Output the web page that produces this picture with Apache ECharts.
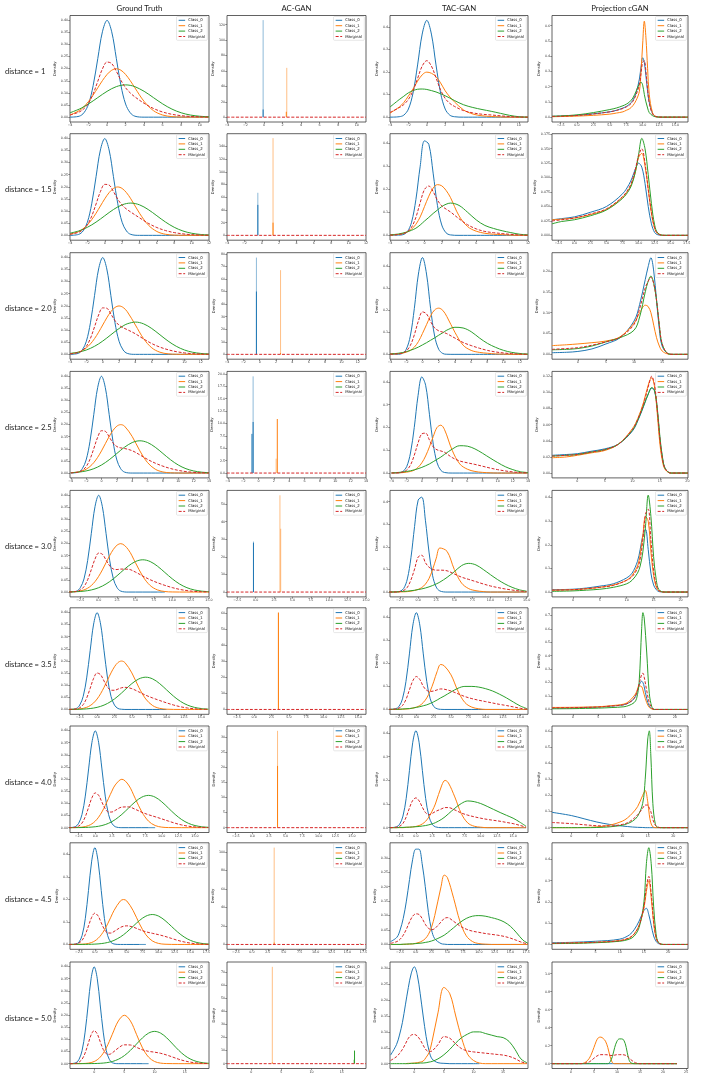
<!DOCTYPE html>
<html>
<head>
<meta charset="utf-8">
<title>Densities by distance</title>
<script src="https://cdn.jsdelivr.net/npm/echarts@6/dist/echarts.min.js"></script>
<style>
html, body { margin: 0; padding: 0; background: #fff; }
#chart { width: 708px; height: 1078px; }
</style>
</head>
<body>
<div id="chart"></div>
<script>
// ---------------- labels ----------------
var classNames = ['Class_0', 'Class_1', 'Class_2', 'Marginal'];
var columnTitles = ['Ground Truth', 'AC-GAN', 'TAC-GAN', 'Projection cGAN'];
var rowTitles = ['distance = 1', 'distance = 1.5', 'distance = 2.0', 'distance = 2.5', 'distance = 3.0',
                 'distance = 3.5', 'distance = 4.0', 'distance = 4.5', 'distance = 5.0'];

// ---------------- Ground Truth ----------------
var gtGrid = [
  [-4,-3,-2.5,-2,-1.5,-1,-0.5,0,0.5,1,1.5,2,2.5,3,4,5,6,7,8,9,10,11],
  [-4,-3,-2.5,-2,-1.5,-1,-0.5,0,0.5,1,1.5,2,2.5,3,4,5,6,7,8,9,10,11,12],
  [-4,-3,-2.5,-2,-1.5,-1,-0.5,0,0.5,1,1.5,2,2.5,3,4,5,6,7,8,9,10,11,12,13],
  [-4,-3,-2.5,-2,-1.5,-1,-0.5,0,0.5,1,1.5,2,2.5,3,4,5,6,7,8,9,10,11,12,13,14],
  [-4,-3,-2.5,-2,-1.5,-1,-0.5,0,0.5,1,1.5,2,2.5,3,4,5,6,7,8,9,10,11,12,13,14,15],
  [-4,-3,-2.5,-2,-1.5,-1,-0.5,0,0.5,1,1.5,2,2.5,3,3.5,4,5,6,7,8,9,10,11,12,13,14,15,16],
  [-4,-3,-2.5,-2,-1.5,-1,-0.5,0,0.5,1,1.5,2,2.5,3,4,5,6,7,8,9,10,11,12,13,14,15,16,17],
  [-4,-3,-2.5,-2,-1.5,-1,-0.5,0,0.5,1,1.5,2,2.5,3,4,4.5,5,6,7,8,9,10,11,12,13,14,15,16,17,17.9],
  [-4,-3,-2.5,-2,-1.5,-1,-0.5,0,0.5,1,1.5,2,2.5,3,4,5,6,7,8,9,10,11,12,13,14,15,16,17,18,19]
];
var gtClass0 = [
  [0,.004,.018,.054,.13,.242,.352,.399,.352,.242,.13,.054,.018,.004,0,0,0,0,0,0,0,0],
  [0,.004,.018,.054,.13,.242,.352,.399,.352,.242,.13,.054,.018,.004,0,0,0,0,0,0,0,0,0],
  [0,.004,.018,.054,.13,.242,.352,.399,.352,.242,.13,.054,.018,.004,0,0,0,0,0,0,0,0,0,0],
  [0,.004,.018,.054,.13,.242,.352,.399,.352,.242,.13,.054,.018,.004,0,0,0,0,0,0,0,0,0,0,0],
  [0,.004,.018,.054,.13,.242,.352,.399,.352,.242,.13,.054,.018,.004,0,0,0,0,0,0],
  [0,.004,.018,.054,.13,.242,.352,.399,.352,.242,.13,.054,.018,.004,.0009,0,0,0,0,0,0,0],
  [0,.004,.018,.054,.13,.242,.352,.399,.352,.242,.13,.054,.018,.004,0,0,0,0,0,0],
  [0,.002,.01,.04,.115,.24,.37,.43,.37,.24,.115,.04,.01,.002,0,0,0,0,0,0],
  [0,.004,.018,.054,.13,.242,.352,.399,.352,.242,.13,.054,.018,.004,0,0,0,0,0,0]
];
var gtClass1 = [
  [.0088,.027,.0431,.0648,.0913,.121,.1506,.176,.1933,.1995,.1933,.176,.1506,.121,.0648,.027,.0088,.0022,.0004,.0001,0,0],
  [.0045,.0159,.027,.0431,.0648,.0913,.121,.1506,.176,.1933,.1995,.1933,.176,.1506,.0913,.0431,.0159,.0045,.001,.0002,0,0,0],
  [.0022,.0088,.0159,.027,.0431,.0648,.0913,.121,.1506,.176,.1933,.1995,.1933,.176,.121,.0648,.027,.0088,.0022,.0004,.0001,0,0,0],
  [.001,.0045,.0088,.0159,.027,.0431,.0648,.0913,.121,.1506,.176,.1933,.1995,.1933,.1506,.0913,.0431,.0159,.0045,.001,.0002,0,0,0,0],
  [.0004,.0022,.0045,.0088,.0159,.027,.0431,.0648,.0913,.121,.1506,.176,.1933,.1995,.176,.121,.0648,.027,.0088,.0022,.0004,.0001,0,0,0,0],
  [.0002,.001,.0022,.0045,.0088,.0159,.027,.0431,.0648,.0913,.121,.1506,.176,.1933,.1995,.1933,.1506,.0913,.0431,.0159,.0045,.001,.0002,0,0,0,0,0],
  [.0001,.0004,.001,.0022,.0045,.0088,.0159,.027,.0431,.0648,.0913,.121,.1506,.176,.1995,.176,.121,.0648,.027,.0088,.0022,.0004,.0001,0,0,0,0,0],
  [0,.0002,.0004,.001,.0022,.0045,.0088,.0159,.027,.0431,.0648,.0913,.121,.1506,.1933,.1995,.1933,.1506,.0913,.0431,.0159,.0045,.001,.0002,0,0,0,0,0,0],
  [0,.0001,.0002,.0004,.001,.0022,.0045,.0088,.0159,.027,.0431,.0648,.0913,.121,.176,.1995,.176,.121,.0648,.027,.0088,.0022,.0004,.0001,0,0,0,0,0,0]
];
var gtClass2 = [
  [.018,.0332,.0432,.0547,.0673,.0807,.094,.1065,.1174,.1258,.1311,.133,.1311,.1258,.1065,.0807,.0547,.0332,.018,.0087,.0038,.0015],
  [.0087,.018,.0248,.0332,.0432,.0547,.0673,.0807,.094,.1065,.1174,.1258,.1311,.133,.1258,.1065,.0807,.0547,.0332,.018,.0087,.0038,.0015],
  [.0038,.0087,.0127,.018,.0248,.0332,.0432,.0547,.0673,.0807,.094,.1065,.1174,.1258,.133,.1258,.1065,.0807,.0547,.0332,.018,.0087,.0038,.0015],
  [.0015,.0038,.0058,.0087,.0127,.018,.0248,.0332,.0432,.0547,.0673,.0807,.094,.1065,.1258,.133,.1258,.1065,.0807,.0547,.0332,.018,.0087,.0038,.0015],
  [.0005,.0015,.0024,.0038,.0058,.0087,.0127,.018,.0248,.0332,.0432,.0547,.0673,.0807,.1065,.1258,.133,.1258,.1065,.0807,.0547,.0332,.018,.0087,.0038,.0015],
  [.0002,.0005,.0009,.0015,.0024,.0038,.0058,.0087,.0127,.018,.0248,.0332,.0432,.0547,.0673,.0807,.1065,.1258,.133,.1258,.1065,.0807,.0547,.0332,.018,.0087,.0038,.0015],
  [.0001,.0002,.0003,.0005,.0009,.0015,.0024,.0038,.0058,.0087,.0127,.018,.0248,.0332,.0547,.0807,.1065,.1258,.133,.1258,.1065,.0807,.0547,.0332,.018,.0087,.0038,.0015],
  [0,.0001,.0001,.0002,.0003,.0005,.0009,.0015,.0024,.0038,.0058,.0087,.0127,.018,.0332,.0432,.0547,.0807,.1065,.1258,.133,.1258,.1065,.0807,.0547,.0332,.018,.0087,.0038,.0015],
  [0,0,.0001,.0001,.0001,.0002,.0003,.0005,.0009,.0015,.0024,.0038,.0058,.0087,.018,.0332,.0547,.0807,.1065,.1258,.133,.1258,.1065,.0807,.0547,.0332,.018,.0087,.0038,.0015]
];
var gtMarginal = [
  [.0089,.0214,.0348,.0578,.0962,.1479,.1989,.2272,.2209,.1891,.1515,.121,.0999,.0836,.0571,.0359,.0212,.0118,.0061,.0029,.0013,.0005],
  [.0044,.0126,.0233,.0434,.0793,.1293,.1801,.2101,.2073,.1806,.149,.1244,.1084,.0959,.0724,.0499,.0322,.0197,.0114,.0061,.0029,.0013,.0005],
  [.002,.0072,.0155,.033,.066,.1133,.1622,.1916,.19,.1662,.1391,.12,.1096,.1019,.0847,.0635,.0445,.0298,.019,.0112,.006,.0029,.0013,.0005],
  [.0008,.0041,.0109,.0262,.0566,.101,.1472,.1745,.1721,.1491,.1244,.1093,.1038,.1013,.0921,.0748,.0563,.0408,.0284,.0186,.0111,.006,.0029,.0013,.0005],
  [.0003,.0026,.0083,.0222,.0506,.0926,.1359,.1606,.156,.1321,.1079,.0949,.0929,.0947,.0942,.0823,.0659,.0509,.0384,.0276,.0184,.0111,.006,.0029,.0013,.0005],
  [.0001,.0018,.007,.02,.0471,.0872,.1283,.1503,.1432,.1171,.0919,.0793,.0791,.084,.0892,.0913,.0857,.0724,.0587,.0472,.037,.0272,.0183,.0111,.006,.0029,.0013,.0005],
  [.0001,.0015,.0064,.0189,.0451,.0841,.1234,.1433,.1336,.1052,.078,.0643,.0645,.0711,.0847,.0856,.0758,.0635,.0533,.0449,.0362,.027,.0183,.0111,.006,.0029,.0013,.0005],
  [0,.0014,.0062,.0184,.0442,.0823,.1206,.1388,.1271,.0963,.0669,.0513,.0506,.0575,.0755,.0809,.0827,.0771,.0659,.0563,.0496,.0434,.0358,.027,.0182,.0111,.006,.0029,.0013,.0005],
  [0,.0014,.0061,.0182,.0437,.0815,.1189,.1361,.1229,.0902,.0585,.0409,.0384,.0446,.0647,.0776,.0769,.0672,.0571,.0509,.0473,.0427,.0356,.027,.0182,.0111,.006,.0029,.0013,.0005]
];

// ---------------- AC-GAN spikes: [class, x, height] ----------------
var acTallSpikes = [
  [[0,-0.1,126],[1,2.45,64]],
  [[0,-0.45,67],[1,1.3,153]],
  [[0,-0.4,77],[1,2.55,67]],
  [[0,-0.7,19.5],[1,2.3,2.9]],
  [[0,-0.3,28.7],[1,3.3,55],[1,3.4,36]],
  [[1,3.5,60.4]],
  [[1,3.8,32]],
  [[1,3.5,104.6],[2,17,1.5]],
  [[1,3.5,74],[2,17,3]]
];
var acCoreSpikes = [
  [[0,-0.1,10],[1,2.4,7]],
  [[0,-0.45,48],[1,1.3,20]],
  [[0,-0.4,50],[1,2.55,1]],
  [[0,-0.7,10.3],[0,-0.85,7.9],[1,2.45,10.9]],
  [[0,-0.3,28]],
  [[1,3.5,60.4]],
  [[1,3.8,20.4]],
  [[1,3.5,2]],
  [[1,3.5,1],[2,17.1,10]]
];

// ---------------- TAC-GAN ----------------
var tacGrid = [
  [-4,-3,-2.5,-2,-1.5,-1,-0.5,0,0.5,1,1.5,2,2.5,3,4,5,6,7,8,9,10,11],
  [-4,-3,-2.5,-2,-1.5,-1,-0.5,0,0.5,1,1.5,2,2.5,3,4,5,6,7,8,9,10,11,12],
  [-4,-3,-2.5,-2,-1.5,-1,-0.5,0,0.5,1,1.5,2,2.5,3,4,5,6,7,8,9,10,11,12,13],
  [-4,-3,-2.5,-2,-1.5,-1,-0.5,0,0.5,1,1.5,2,2.5,3,4,5,6,7,8,9,10,11,12,13,14],
  [-4,-3,-2.5,-2,-1.5,-1,-0.5,0,0.5,1,1.5,2,2.5,3,4,5,6,7,8,9,10,11,12,13,14,15],
  [-4,-3,-2.5,-2,-1.5,-1,-0.5,0,0.5,1,1.5,2,2.5,3,3.5,4,5,6,7,8,9,10,11,12,13,14,15,16],
  [-4,-3,-2.5,-2,-1.5,-1,-0.5,0,0.5,1,1.5,2,2.5,3,4,4.5,5,6,7,8,9,10,11,12,13,14,15,16,17],
  [-4,-3,-2.5,-2,-1.5,-1,-0.5,0,0.5,1,1.5,2,2.5,3,4,4.5,5,6,7,8,9,10,11,12,13,14,15,16,17,17.8],
  [-4,-3,-2.5,-2,-1.5,-1,-0.5,0,0.5,1,1.5,2,2.5,3,4,5,6,7,8,9,10,11,12,13,14,15,16,17,18,19]
];
var tacClass0 = [
  [0,.002,.009,.036,.107,.232,.369,.43,.369,.232,.107,.036,.009,.002,0,0,0,0,0,0,0,0],
  [0,.001,.003,.015,.057,.155,.3,.41,.395,.27,.13,.045,.011,.002,0,0,0,0,0,0,0,0,0],
  [0,.0005,.004,.023,.083,.209,.365,.44,.365,.209,.083,.023,.004,.0005,0,0,0,0,0,0,0,0,0,0],
  [0,.001,.0066,.028,.088,.2,.34,.422,.385,.258,.127,.046,.012,.0024,0,0,0,0,0,0,0,0,0,0,0],
  [0,.0005,.0034,.016,.058,.152,.29,.407,.42,.318,.177,.072,.022,.005,0,0,0,0,0,0,0,0,0,0,0,0],
  [0,.003,.013,.046,.121,.241,.366,.42,.366,.241,.121,.046,.013,.003,.0005,0,0,0,0,0,0,0,0,0,0,0,0,0],
  [0,.0035,.015,.049,.124,.241,.359,.41,.359,.241,.124,.049,.015,.0035,0,0,0,0,0,0,0,0,0,0,0,0,0,0,0],
  [.01,.025,.05,.09,.15,.225,.295,.33,.33,.28,.2,.11,.05,.02,.003,.001,0,0,0,0,0,0,0,0,0,0,0,0,0,0],
  [.027,.06,.09,.13,.185,.24,.285,.305,.28,.22,.15,.085,.04,.015,.003,.001,0,0,0,0,0,0]
];
var tacClass1 = [
  [.018,.045,.065,.094,.125,.16,.188,.2,.195,.18,.152,.117,.09,.068,.032,.014,.006,.003,.001,0,0,0],
  [.001,.004,.008,.015,.027,.048,.08,.125,.17,.205,.22,.215,.195,.165,.085,.038,.018,.009,.005,.003,.001,0,0],
  [.001,.003,.005,.01,.018,.033,.058,.095,.135,.175,.202,.21,.2,.172,.1,.042,.018,.009,.005,.002,.001,0,0,0],
  [0,.001,.002,.004,.007,.013,.025,.045,.075,.115,.16,.2,.21,.19,.1,.04,.017,.007,.003,.001,0,0,0,0,0],
  [0,0,.001,.001,.002,.004,.007,.012,.02,.035,.06,.1,.15,.195,.18,.1,.04,.015,.006,.002,0,0,0,0,0,0],
  [0,0,0,.001,.002,.003,.006,.01,.017,.03,.05,.08,.12,.165,.195,.19,.15,.08,.03,.01,.003,0,0,0,0,0,0,0],
  [0,0,0,0,.001,.002,.003,.005,.009,.016,.027,.045,.07,.1,.18,.2,.19,.13,.06,.02,.006,.002,0,0,0,0,0,0,0],
  [0,0,0,0,.001,.001,.002,.004,.007,.012,.02,.035,.06,.1,.2,.24,.232,.16,.08,.03,.01,.003,.001,0,0,0,0,0,0,0],
  [null,null,null,null,0,.001,.001,.002,.003,.005,.008,.02,.035,.07,.16,.24,.22,.15,.08,.03,.01,.002,0,0,0,0,0,0,0,0]
];
var tacClass2 = [
  [.045,.078,.093,.108,.118,.124,.125,.123,.118,.112,.104,.095,.085,.074,.055,.043,.034,.026,.017,.008,.002,0],
  [.002,.006,.01,.015,.022,.031,.045,.062,.078,.095,.11,.125,.135,.14,.13,.1,.067,.043,.03,.02,.012,.005,.002],
  [.002,.005,.008,.012,.018,.025,.033,.043,.053,.064,.075,.087,.098,.11,.123,.12,.103,.075,.05,.032,.018,.009,.004,.001],
  [.001,.003,.005,.007,.01,.014,.019,.025,.032,.04,.05,.06,.07,.082,.105,.12,.118,.106,.087,.066,.046,.028,.015,.006,.002],
  [0,.001,.002,.003,.004,.006,.008,.011,.014,.018,.023,.029,.036,.044,.065,.09,.117,.127,.12,.1,.077,.055,.036,.021,.01,.004],
  [0,.001,.001,.002,.003,.004,.006,.009,.012,.016,.02,.026,.033,.041,.05,.058,.076,.092,.1,.1,.097,.09,.08,.066,.05,.032,.015,.003],
  [0,0,.001,.001,.002,.002,.003,.004,.005,.007,.009,.012,.016,.021,.036,.046,.058,.082,.102,.113,.11,.102,.09,.077,.064,.052,.04,.024,.006],
  [0,0,0,.001,.001,.002,.002,.003,.004,.005,.007,.009,.012,.016,.026,.032,.04,.058,.076,.09,.098,.1,.098,.093,.087,.078,.063,.04,.015,.004],
  [0,0,0,0,0,0,.001,.001,.001,.002,.002,.003,.005,.007,.015,.028,.045,.065,.082,.093,.1,.1,.095,.09,.085,.082,.07,.045,.015,.003]
];
var tacMarginal = [
  [.021,.042,.056,.079,.117,.172,.227,.251,.227,.175,.121,.083,.061,.048,.029,.019,.013,.0097,.006,.0027,.0007,0],
  [.001,.0037,.007,.015,.035,.078,.142,.199,.214,.19,.153,.128,.114,.102,.072,.046,.028,.017,.0117,.0077,.0043,.0017,.0007],
  [.001,.0028,.0057,.015,.04,.089,.152,.193,.184,.149,.12,.107,.101,.094,.074,.054,.04,.028,.018,.011,.0063,.003,.0013,.0003],
  [.0003,.0017,.0045,.013,.035,.078,.132,.172,.175,.145,.115,.102,.097,.091,.068,.053,.045,.038,.03,.022,.015,.0093,.005,.002,.0007],
  [0,.0005,.002,.007,.021,.054,.102,.155,.163,.13,.11,.1,.097,.097,.094,.08,.066,.056,.046,.036,.027,.02,.014,.009,.005,.002],
  [0,.002,.006,.017,.043,.085,.125,.143,.13,.1,.083,.078,.08,.085,.089,.088,.08,.068,.056,.047,.04,.034,.028,.022,.017,.011,.005,.001],
  [0,.002,.006,.018,.045,.083,.115,.126,.113,.086,.063,.055,.06,.068,.08,.085,.085,.075,.062,.053,.046,.04,.035,.031,.027,.022,.017,.01,.002],
  [.004,.01,.018,.032,.053,.078,.098,.106,.104,.09,.07,.056,.051,.055,.078,.09,.093,.08,.064,.053,.046,.042,.038,.035,.032,.028,.022,.014,.006,.002],
  [.01,.022,.032,.045,.062,.08,.09,.092,.087,.075,.058,.043,.038,.04,.06,.085,.08,.062,.047,.04,.037,.035,.033,.031,.029,.027,.023,.016,.006,.001]
];

// ---------------- Projection cGAN ----------------
var projGrid = [
  [-3.8,-2.5,0,2.5,5,6,7,7.5,8,8.5,9,9.5,9.75,10,10.25,10.5,10.75,11,11.5,12,13,15,16.9],
  [-3.5,-2,0,2.5,5,7.5,8.5,9,9.5,10,10.5,11,11.5,12,12.5,13,14,17.7],
  [-4.6,-2,0,2.5,5,7.5,10,11,12,12.5,13,13.5,14,14.5,15,16,17,19.6],
  [-4.6,-2,0,2.5,5,7.5,10,11,12,13,13.5,14,14.5,15,15.5,16,17,20.1],
  [-3.9,0,2.5,5,7.5,10,11,12,12.5,13,13.5,14,14.5,15,15.5,16,17,21.4],
  [-4.1,0,2.5,5,7.5,10,11,12,12.5,13,13.5,13.75,14,14.5,15,15.5,16,22.6],
  [-3.8,0,2.5,5,7.5,10,11,12,13,14,14.5,15,15.3,15.6,16,16.5,17,18,22.9],
  [-4,0,5,10,12,13,14,15,15.5,16,16.5,17,17.5,18,19,24.1],
  [-4.1,2,3,4,5,5.5,6,6.5,7,7.5,8,8.5,9,9.5,10,10.5,11,11.5,12,12.5,13,14,15,23]
];
var projClass0 = [
  [.005,.007,.012,.022,.035,.045,.06,.07,.085,.11,.16,.25,.33,.39,.36,.27,.17,.1,.025,.004,0,0,0],
  [.027,.029,.032,.04,.05,.072,.088,.1,.115,.125,.118,.09,.05,.02,.005,.001,0,0],
  [.004,.005,.007,.013,.025,.04,.08,.12,.18,.21,.232,.2,.13,.06,.02,.002,0,0],
  [.022,.023,.024,.027,.03,.036,.052,.065,.082,.1,.105,.102,.08,.042,.017,.005,0,0],
  [.01,.012,.017,.025,.035,.06,.08,.13,.18,.24,.265,.18,.08,.03,.01,.002,0,0],
  [.01,.012,.015,.018,.025,.035,.05,.08,.12,.18,.21,.2,.17,.08,.025,.006,0,0],
  [.095,.075,.055,.035,.02,.01,.007,.004,.002,.001,0,0,0,0,0,0,0,0,0],
  [.008,.01,.015,.025,.045,.07,.11,.16,.17,.14,.09,.04,.015,.004,0,0],
  [0,0,0,0,0,0,0,0,0,0,0,0,0,0,0,0,0,0,0,0,0,0,0,0]
];
var projClass1 = [
  [.003,.004,.007,.012,.02,.027,.035,.045,.055,.075,.11,.17,.3,.48,.63,.52,.32,.15,.03,.005,0,0,0],
  [.027,.028,.03,.036,.045,.066,.08,.092,.11,.135,.142,.12,.08,.038,.012,.003,0,0],
  [.021,.023,.025,.028,.032,.042,.075,.1,.118,.115,.1,.07,.04,.02,.008,.001,0,0],
  [.019,.02,.022,.025,.028,.036,.055,.068,.087,.112,.118,.108,.075,.036,.013,.004,0,0],
  [.008,.01,.014,.02,.03,.05,.07,.11,.16,.24,.32,.3,.17,.07,.02,.005,0,0],
  [.015,.016,.018,.02,.028,.04,.06,.1,.13,.175,.17,.145,.11,.05,.015,.004,0,0],
  [0,0,.001,.005,.015,.04,.06,.09,.13,.2,.23,.16,.08,.03,.005,0,0,0,0],
  [.005,.007,.01,.018,.03,.05,.09,.17,.25,.3,.22,.1,.03,.008,0,0],
  [0,0,.01,.06,.18,.25,.29,.295,.28,.25,.18,.08,.01,0,0,0,0,0,0,0,0,0,0,0]
];
var projClass2 = [
  [.006,.008,.015,.03,.05,.06,.075,.085,.1,.125,.17,.22,.23,.21,.15,.1,.06,.03,.01,.002,0,0,0],
  [.02,.024,.027,.034,.044,.064,.078,.09,.11,.14,.168,.15,.105,.055,.018,.004,0,0],
  [.011,.012,.014,.02,.03,.04,.058,.09,.15,.175,.188,.17,.13,.07,.025,.002,0,0],
  [.021,.022,.023,.026,.029,.036,.053,.066,.083,.1,.106,.103,.082,.045,.018,.005,0,0],
  [.003,.005,.008,.012,.02,.035,.05,.08,.11,.17,.28,.41,.32,.15,.05,.01,0,0],
  [.005,.006,.008,.01,.014,.02,.03,.05,.08,.2,.6,.72,.68,.42,.12,.02,0,0],
  [0,0,0,.001,.005,.015,.025,.04,.07,.15,.3,.55,.6,.45,.15,.02,.002,0,0],
  [.004,.005,.008,.015,.025,.04,.08,.2,.38,.455,.38,.18,.05,.01,0,0],
  [0,0,0,0,0,0,0,0,0,0,0,.02,.08,.18,.25,.275,.275,.26,.18,.06,.01,0,0,0]
];
var projMarginal = [
  [.005,.006,.011,.021,.035,.044,.057,.067,.08,.103,.147,.213,.287,.36,.37,.297,.183,.093,.022,.004,0,0,0],
  [.025,.027,.03,.037,.046,.067,.082,.095,.115,.138,.15,.125,.08,.04,.013,.003,0,0],
  [.012,.014,.016,.022,.03,.041,.072,.11,.16,.175,.185,.17,.13,.07,.025,.002,0,0],
  [.021,.022,.023,.026,.029,.036,.054,.067,.085,.11,.12,.11,.08,.042,.016,.005,0,0],
  [.008,.01,.014,.02,.028,.05,.065,.1,.14,.22,.33,.35,.22,.09,.03,.006,0,0],
  [.012,.013,.015,.018,.025,.035,.05,.08,.12,.19,.26,.27,.24,.14,.05,.012,0,0],
  [.032,.025,.018,.012,.01,.02,.03,.05,.08,.12,.14,.14,.12,.1,.05,.015,.003,0,0],
  [.005,.007,.01,.018,.032,.05,.09,.18,.27,.32,.24,.11,.035,.008,0,0],
  [0,0,.004,.02,.06,.08,.095,.1,.1,.1,.098,.092,.09,.095,.1,.1,.1,.098,.09,.07,.045,.01,0,0]
];

// ---------------- axes: [min, max] and tick [first, last, step] ----------------
var gtXRange = [[-4,11],[-4,12],[-4,13],[-4.1,14],[-3.9,15],[-3.9,16.1],[-3.8,17.1],[-3.9,17.9],[-4,19]];
var gtXTicks = [[-4,10,2],[-4,12,2],[-4,12,2],[-4,14,2],[-2.5,15,2.5],[-2.5,15,2.5],[-2.5,15,2.5],[-2.5,17.5,2.5],[0,15,5]];
var gtYMax = [0.419,0.419,0.419,0.419,0.419,0.419,0.419,0.4515,0.419];
var gtYTicks = [[0,0.4,0.05],[0,0.4,0.05],[0,0.4,0.05],[0,0.4,0.05],[0,0.4,0.05],[0,0.4,0.05],[0,0.4,0.05],[0,0.4,0.1],[0,0.4,0.05]];

var acYMax = [132,160,80.9,20.5,57.8,63.4,33.6,109.8,77.7];
var acYTicks = [[0,120,20],[0,140,20],[0,80,10],[0,20,2.5],[0,50,10],[0,60,10],[0,30,5],[0,100,20],[0,70,10]];

var tacXRange = [[-4,11],[-4,12],[-4,13],[-4.2,14],[-3.9,15.2],[-3.8,16.1],[-4,17.3],[-4.1,17.8],[-4.1,19.2]];
var tacXTicks = [[-4,10,2],[-4,12,2],[-4,12,2],[-4,14,2],[-2.5,15,2.5],[-2.5,15,2.5],[-2.5,15,2.5],[-2.5,17.5,2.5],[0,15,5]];
var tacYMax = [0.4515,0.441,0.462,0.446,0.45,0.441,0.43,0.352,0.32];
var tacYTicks = [[0,0.4,0.1],[0,0.4,0.1],[0,0.4,0.1],[0,0.4,0.1],[0,0.4,0.1],[0,0.4,0.1],[0,0.4,0.1],[0,0.3,0.05],[0,0.3,0.05]];

var projXRange = [[-3.8,16.9],[-3.5,17.7],[-4.6,19.6],[-4.6,20.1],[-3.9,21.4],[-4.1,22.6],[-3.8,22.9],[-4,24.1],[-4.1,25.4]];
var projXTicks = [[-2.5,15,2.5],[-2.5,17.5,2.5],[0,15,5],[0,20,5],[0,20,5],[0,20,5],[0,20,5],[0,20,5],[0,25,5]];
var projYMax = [0.667,0.176,0.244,0.126,0.43,0.756,0.63,0.478,1.13];
var projYTicks = [[0,0.6,0.1],[0,0.175,0.025],[0,0.2,0.05],[0,0.12,0.02],[0,0.4,0.1],[0,0.7,0.1],[0,0.6,0.1],[0,0.4,0.1],[0,1,0.2]];

// ---------------- layout & style ----------------
var colors = ['#1f77b4', '#ff7f0e', '#2ca02c', '#d62728'];
var colLeft = [70, 227, 390, 552];
var colWidth = [139, 139, 138, 136];
var rowTop = [15.5, 133.7, 252.7, 371.4, 490.4, 607.8, 726, 842.8, 962];
var plotHeight = 106.5;
var tickFont = 'DejaVu Sans';

function tickList(spec) {
  var out = [];
  for (var v = spec[0]; v <= spec[1] + 1e-9; v += spec[2]) out.push(Math.round(v * 1e6) / 1e6);
  return out;
}
function decimalsOf(step) {
  var s = String(step).split('.');
  return s.length > 1 ? s[1].length : 0;
}
function fmt(dec) {
  return function (v) { return v.toFixed(dec).replace('-', '\u2212'); };
}
function pairs(xs, ys) {
  var out = [];
  for (var i = 0; i < ys.length && i < xs.length; i++) {
    if (ys[i] !== null) out.push([xs[i], ys[i]]);
  }
  return out;
}

var grids = [], xAxes = [], yAxes = [], series = [], legends = [];

function addPanel(row, col, xr, xt, ymax, yt) {
  var gi = grids.length;
  grids.push({
    left: colLeft[col], top: rowTop[row], width: colWidth[col], height: plotHeight,
    show: true, borderColor: '#3a3a3a', borderWidth: 0.8, backgroundColor: '#fff'
  });
  var xticks = tickList(xt), yticks = tickList(yt);
  xAxes.push({
    gridIndex: gi, type: 'value', min: xr[0], max: xr[1],
    axisLine: { show: false, onZero: false }, splitLine: { show: false },
    axisTick: { customValues: xticks, length: 1.8, lineStyle: { color: '#333', width: 0.5 } },
    axisLabel: { customValues: xticks, fontSize: 3.3, margin: 1.8, color: '#333', fontFamily: tickFont,
                 formatter: fmt(decimalsOf(xt[2])) }
  });
  yAxes.push({
    gridIndex: gi, type: 'value', min: -ymax / 21, max: ymax,
    name: 'Density', nameLocation: 'middle', nameGap: 10.5,
    nameTextStyle: { fontSize: 3.8, color: '#333', fontFamily: tickFont },
    axisLine: { show: false, onZero: false }, splitLine: { show: false },
    axisTick: { customValues: yticks, length: 1.8, lineStyle: { color: '#333', width: 0.5 } },
    axisLabel: { customValues: yticks, fontSize: 3.3, margin: 1.8, color: '#333', fontFamily: tickFont,
                 formatter: fmt(decimalsOf(yt[2])) }
  });
  legends.push({
    data: classNames, orient: 'vertical', align: 'left', selectedMode: false,
    right: 708 - colLeft[col] - colWidth[col] + 1.7, top: rowTop[row] + 1,
    itemWidth: 6.5, itemHeight: 3.6, itemGap: 1.4,
    padding: [1.8, 2.4, 1.8, 1.6], borderColor: '#cfcfcf', borderWidth: 0.5, borderRadius: 1,
    backgroundColor: 'rgba(255,255,255,0.85)',
    itemStyle: { opacity: 0 },
    lineStyle: { width: 1 },
    textStyle: { fontSize: 3.9, color: '#222', fontFamily: tickFont, padding: [0, 0, 0, -2] }
  });
  return gi;
}

function curve(gi, k, xs, ys) {
  series.push({
    type: 'line', name: classNames[k], xAxisIndex: gi, yAxisIndex: gi,
    data: pairs(xs, ys), symbol: 'none', smooth: 0.35, silent: true,
    itemStyle: { color: colors[k] },
    lineStyle: { color: colors[k], width: 1, type: k === 3 ? [3, 1.6] : 'solid' },
    z: 2 + k
  });
}

function spike(gi, s, faint) {
  series.push({
    type: 'line', name: classNames[s[0]], xAxisIndex: gi, yAxisIndex: gi,
    data: [[s[1], 0], [s[1], s[2]]], symbol: 'none', silent: true,
    itemStyle: { color: colors[s[0]] },
    lineStyle: { color: colors[s[0]], width: 1, opacity: faint ? 0.5 : 1 },
    z: faint ? 2 : 3
  });
}

for (var r = 0; r < 9; r++) {
  // Ground truth
  var g = addPanel(r, 0, gtXRange[r], gtXTicks[r], gtYMax[r], gtYTicks[r]);
  curve(g, 0, gtGrid[r], gtClass0[r]);
  curve(g, 1, gtGrid[r], gtClass1[r]);
  curve(g, 2, gtGrid[r], gtClass2[r]);
  curve(g, 3, gtGrid[r], gtMarginal[r]);

  // AC-GAN
  g = addPanel(r, 1, gtXRange[r], gtXTicks[r], acYMax[r], acYTicks[r]);
  acTallSpikes[r].forEach(function (s) { spike(g, s, true); });
  acCoreSpikes[r].forEach(function (s) { spike(g, s, false); });
  curve(g, 3, gtXRange[r], [0, 0]);

  // TAC-GAN
  g = addPanel(r, 2, tacXRange[r], tacXTicks[r], tacYMax[r], tacYTicks[r]);
  curve(g, 0, tacGrid[r], tacClass0[r]);
  curve(g, 1, tacGrid[r], tacClass1[r]);
  curve(g, 2, tacGrid[r], tacClass2[r]);
  curve(g, 3, tacGrid[r], tacMarginal[r]);

  // Projection cGAN
  g = addPanel(r, 3, projXRange[r], projXTicks[r], projYMax[r], projYTicks[r]);
  curve(g, 0, projGrid[r], projClass0[r]);
  curve(g, 1, projGrid[r], projClass1[r]);
  curve(g, 2, projGrid[r], projClass2[r]);
  curve(g, 3, projGrid[r], projMarginal[r]);
}

var texts = [];
columnTitles.forEach(function (t, c) {
  texts.push({ type: 'text', x: colLeft[c] + colWidth[c] / 2, y: 8.5,
    style: { text: t, fontSize: 7.8, fontFamily: 'Lato', fill: '#222', align: 'center', verticalAlign: 'middle' } });
});
rowTitles.forEach(function (t, r) {
  texts.push({ type: 'text', x: 5, y: rowTop[r] + plotHeight / 2 + 3,
    style: { text: t, fontSize: 7.6, fontFamily: 'Lato', fill: '#222', align: 'left', verticalAlign: 'middle' } });
});

var chart = echarts.init(document.getElementById('chart'));
chart.setOption({
  animation: false,
  backgroundColor: '#fff',
  grid: grids,
  xAxis: xAxes,
  yAxis: yAxes,
  legend: legends,
  series: series,
  graphic: texts
});
</script>
</body>
</html>
